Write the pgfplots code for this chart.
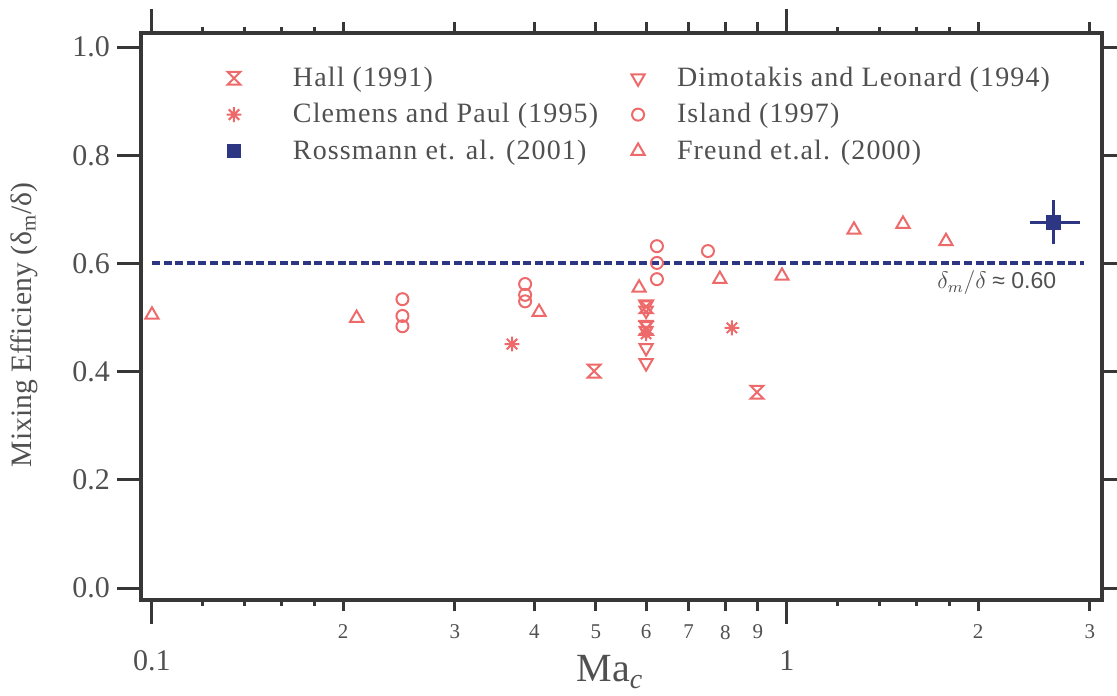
\documentclass[border=0pt]{standalone}
\usepackage{pgfplots}
\pgfplotsset{compat=1.18}
\usepackage{fontspec}
\setmainfont{Liberation Serif}
\newfontfamily\sansf{Liberation Sans}
\newfontfamily\legf[LetterSpace=4]{Liberation Serif}
\definecolor{mred}{RGB}{238,106,106}
\definecolor{navy}{RGB}{44,54,130}
\definecolor{frame}{RGB}{55,55,55}
\definecolor{txt}{RGB}{80,80,80}

\pgfdeclareplotmark{hourglass}{%
  \pgfpathmoveto{\pgfpoint{-\pgfplotmarksize}{\pgfplotmarksize}}%
  \pgfpathlineto{\pgfpoint{\pgfplotmarksize}{\pgfplotmarksize}}%
  \pgfpathlineto{\pgfpoint{-\pgfplotmarksize}{-\pgfplotmarksize}}%
  \pgfpathlineto{\pgfpoint{\pgfplotmarksize}{-\pgfplotmarksize}}%
  \pgfpathclose\pgfusepathqstroke}
\pgfdeclareplotmark{ast8}{%
  \pgfpathmoveto{\pgfpoint{-\pgfplotmarksize}{0pt}}\pgfpathlineto{\pgfpoint{\pgfplotmarksize}{0pt}}%
  \pgfpathmoveto{\pgfpoint{0pt}{-\pgfplotmarksize}}\pgfpathlineto{\pgfpoint{0pt}{\pgfplotmarksize}}%
  \pgfpathmoveto{\pgfpoint{-0.707\pgfplotmarksize}{-0.707\pgfplotmarksize}}\pgfpathlineto{\pgfpoint{0.707\pgfplotmarksize}{0.707\pgfplotmarksize}}%
  \pgfpathmoveto{\pgfpoint{-0.707\pgfplotmarksize}{0.707\pgfplotmarksize}}\pgfpathlineto{\pgfpoint{0.707\pgfplotmarksize}{-0.707\pgfplotmarksize}}%
  \pgfusepathqstroke}

\pgfplotsset{
  mk/.style={only marks, line width=1bp,
    legend image code/.code={\path (-4bp,0bp) (27bp,0bp); \draw plot coordinates {(0bp,0bp)};}},
  mkb/.style={only marks, line width=1bp,
    legend image code/.code={\path (-4bp,0bp) (17bp,0bp); \draw plot coordinates {(0bp,0bp)};}}}

\begin{document}
\begin{tikzpicture}
\begin{axis}[name=ax, scale only axis, width=480.5bp, height=283.5bp,
  xmode=log, xmin=0.0961, xmax=3.134, ymin=-0.022, ymax=1.026,
  axis line style={line width=2bp, color=frame},
  every tick/.style={color=frame, line width=1.5bp},
  tick align=outside, major tick length=12bp, minor tick length=3bp,
  xtick={0.1,1}, xticklabels={0.1,1},
  minor xtick={0.12,0.14,0.16,0.18,1.2,1.4,1.6,1.8},
  extra x ticks={0.2,0.3,0.4,0.5,0.6,0.7,0.8,0.9,2,3},
  extra x tick labels={2,3,4,5,6,7,8,9,2,3},
  extra x tick style={major tick length=5.5bp,
     xticklabel style={font=\fontsize{10.5bp}{12bp}\selectfont, yshift=6.5bp}},
  xticklabel style={font=\fontsize{15bp}{18bp}\selectfont, color=txt, yshift=-10bp},
  ytick={0,0.2,0.4,0.6,0.8,1.0},
  yticklabels={0.0,0.2,0.4,0.6,0.8,1.0},
  yticklabel style={font=\fontsize{15bp}{18bp}\selectfont, color=txt},
  xlabel={Ma\textsubscript{\itshape c}},
  xlabel style={font=\fontsize{20bp}{24bp}\selectfont, color=txt, at={(axis description cs:0.488,0)}, anchor=center, yshift=-36bp},
  ylabel={Mixing Efficieny (δ\textsubscript{m}/δ)},
  ylabel style={font=\fontsize{14.8bp}{17bp}\selectfont, color=txt, at={(axis description cs:-0.1217,0.485)}, anchor=center},
  legend columns=2,
  legend cell align=left,
  legend style={draw=none, fill=none, inner sep=0pt, outer sep=0pt,
    at={(axis description cs:0.0874,0.947)}, anchor=north west,
    font=\fontsize{14bp}{16bp}\legf, text=txt, row sep=3bp,
    /tikz/every even column/.append style={column sep=13.5bp}},
]
\addplot[mk, mark=hourglass, mark size=3.2bp, color=mred] coordinates {
 (0.497,0.401) (0.897,0.362) (0.6,0.52) (0.6,0.48)};
\addlegendentry{Hall (1991)}
\addplot[mkb, mark=triangle, mark size=3.8bp, mark options={rotate=180}, color=mred] coordinates {
 (0.6,0.523) (0.6,0.513) (0.6,0.487) (0.6,0.476) (0.6,0.444) (0.6,0.416)};
\addlegendentry{Dimotakis and Leonard (1994)}
\addplot[mk, mark=ast8, mark size=3.7bp, color=mred] coordinates {
 (0.369,0.451) (0.819,0.481) (0.6,0.47)};
\addlegendentry{Clemens and Paul (1995)}
\addplot[mkb, mark=o, mark size=3bp, color=mred] coordinates {
 (0.248,0.534) (0.248,0.503) (0.248,0.484) (0.387,0.562) (0.387,0.542) (0.387,0.530)
 (0.624,0.632) (0.624,0.601) (0.624,0.571) (0.751,0.623)};
\addlegendentry{Island (1997)}
\addplot[mk, mark=square*, mark size=3.2bp, color=navy,
  error bars/.cd, x dir=both, x explicit, y dir=both, y explicit,
  error bar style={line width=1.8bp, navy},
  error mark options={line width=1.8bp, mark size=4.5bp, navy}] coordinates {
 (2.63,0.676) += (0.17,0.024) -= (0.14,0.024)};
\addlegendentry{Rossmann et. al. (2001)}
\addplot[mkb, mark=triangle, mark size=3.8bp, color=mred] coordinates {
 (0.1,0.505) (0.21,0.499) (0.407,0.51) (0.585,0.555) (0.784,0.571) (0.982,0.577)
 (1.275,0.662) (1.523,0.673) (1.78,0.641)};
\addlegendentry{Freund et.al. (2000)}
\addplot[navy, line width=2bp, dash pattern=on 4bp off 1.8bp, forget plot] coordinates {(0.1,0.6) (2.94,0.6)};
\node[color=txt, font=\fontsize{11.5bp}{13bp}\selectfont] at (axis cs:2.14,0.564) {$\delta_m/\delta$ {\sansf ≈ 0.60}};
\end{axis}
\pgfresetboundingbox
\path ([shift={(-70.5bp,-48bp)}]ax.south west) rectangle ([shift={(7.5bp,16.5bp)}]ax.north east);
\end{tikzpicture}
\end{document}
